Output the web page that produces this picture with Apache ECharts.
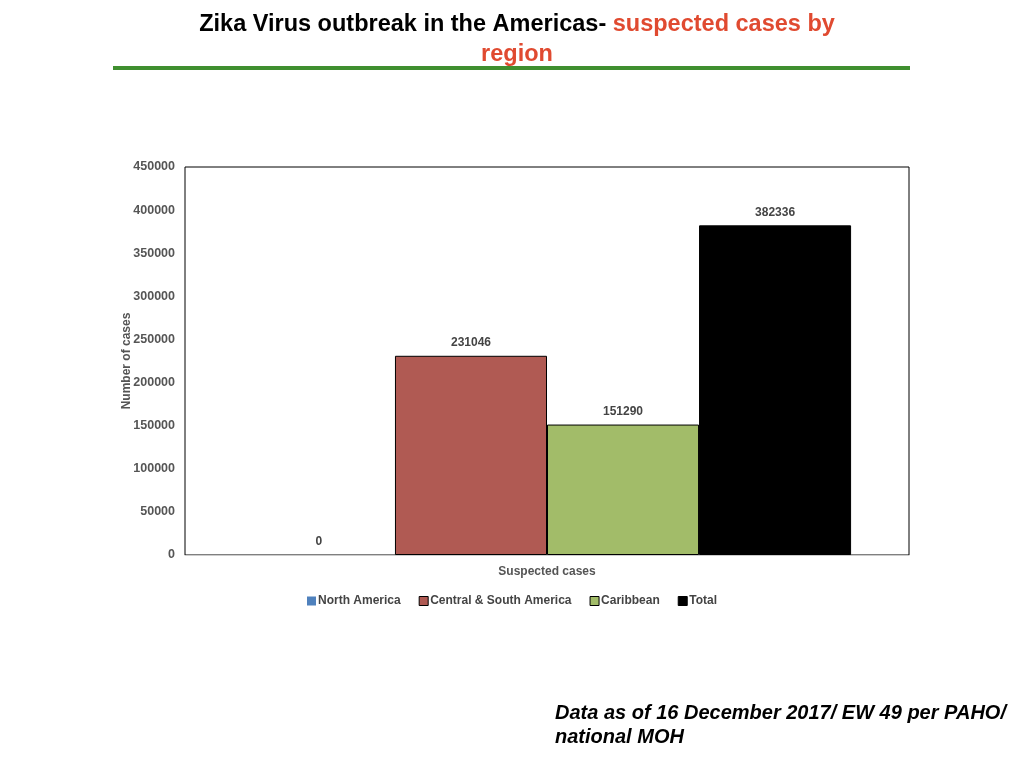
<!DOCTYPE html>
<html><head><meta charset="utf-8">
<script src="https://cdn.jsdelivr.net/npm/echarts@6/dist/echarts.min.js"></script>
<style>html,body{margin:0;padding:0;background:#fff}#c{width:1024px;height:768px}</style>
</head><body><div id="c"></div>
<script>
const categories = ["Suspected cases"];
const seriesNames = ["North America", "Central & South America", "Caribbean", "Total"];
const northAmerica = [0];
const centralSouthAmerica = [231046];
const caribbean = [151290];
const total = [382336];
const yTicks = [0, 50000, 100000, 150000, 200000, 250000, 300000, 350000, 400000, 450000];
const colors = ["#4f81bd", "#b05a53", "#a2bc69", "#000000"];
const values = [northAmerica, centralSouthAmerica, caribbean, total];

const chart = echarts.init(document.getElementById('c'));
const labelStyle = {show: true, position: 'top', color: '#444', fontWeight: 'bold', fontSize: 12, fontFamily: 'Liberation Sans', distance: 7};
chart.setOption({
  animation: false,
  title: {
    text: '{b|Zika Virus outbreak in the Americas- }{r|suspected cases by}\n{r|region}',
    left: 512, top: 5, textAlign: 'center',
    textStyle: {
      rich: {
        b: {fontFamily: 'Liberation Sans', fontWeight: 'bold', fontSize: 23.5, color: '#000', lineHeight: 30},
        r: {fontFamily: 'Liberation Sans', fontWeight: 'bold', fontSize: 23.5, color: '#e04a30', lineHeight: 30}
      }
    }
  },
  graphic: [
    {type: 'rect', shape: {x: 113, y: 66, width: 797, height: 4}, style: {fill: '#3f8f2f'}},
    {type: 'text', left: 555, top: 701, style: {text: 'Data as of 16 December 2017/ EW 49 per PAHO/\nnational MOH', fontFamily: 'Liberation Sans', fontStyle: 'italic', fontWeight: 'bold', fontSize: 20, lineHeight: 24, fill: '#000'}}
  ],
  legend: {
    top: 590, left: 'center', itemWidth: 9, itemHeight: 9, itemGap: 18, icon: 'rect',
    textStyle: {fontFamily: 'Liberation Sans', fontWeight: 'bold', fontSize: 12, color: '#444', padding: [0,0,0,-3]},
    data: seriesNames.map((n, i) => ({name: n, itemStyle: i === 0 ? {borderWidth: 0} : {borderColor: '#000', borderWidth: 1}}))
  },
  grid: {left: 185, right: 115, top: 167, bottom: 213, show: true, borderColor: '#000', borderWidth: 1},
  xAxis: {
    type: 'category', data: categories,
    axisLine: {lineStyle: {color: '#ccc'}}, axisTick: {show: false},
    axisLabel: {color: '#555', fontWeight: 'bold', fontSize: 12, fontFamily: 'Liberation Sans', margin: 11}
  },
  yAxis: {
    type: 'value', min: 0, max: 450000, interval: 50000,
    name: 'Number of cases', nameLocation: 'middle', nameGap: 52, nameRotate: 90, nameMoveOverlap: false,
    nameTextStyle: {color: '#555', fontWeight: 'bold', fontSize: 12, fontFamily: 'Liberation Sans'},
    axisLine: {show: false}, axisTick: {show: false}, splitLine: {show: false},
    axisLabel: {color: '#555', fontWeight: 'bold', fontSize: 12.5, fontFamily: 'Liberation Sans', margin: 10,
      formatter: v => yTicks.includes(v) ? String(v) : ''}
  },
  series: seriesNames.map((n, i) => ({
    name: n, type: 'bar', data: values[i],
    barGap: '0%', barCategoryGap: '16%',
    itemStyle: {color: colors[i], borderColor: '#000', borderWidth: i === 0 ? 0 : 1},
    label: labelStyle
  }))
});
</script></body></html>
